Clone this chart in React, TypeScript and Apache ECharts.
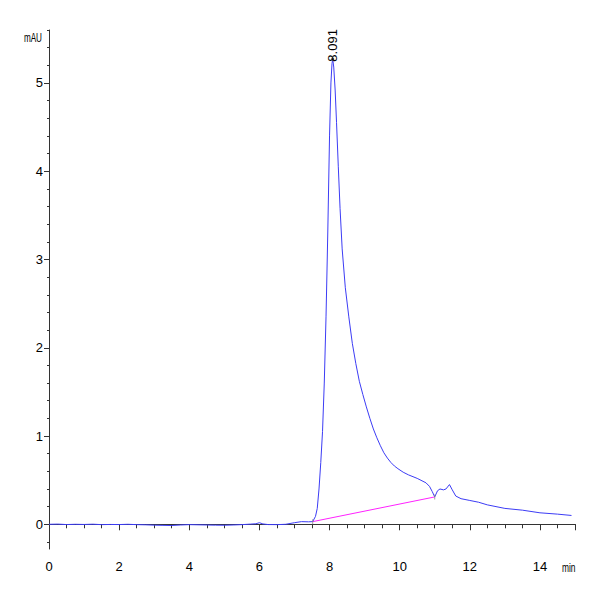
import React, { useEffect, useRef } from "react";
import * as echarts from "echarts";

const times = [
  0, 0.25, 0.5, 0.75, 1.0, 1.25, 1.5, 1.75, 2.0, 2.25, 2.5, 2.75, 3.0, 3.25, 3.5, 3.75,
  4.0, 4.25, 4.5, 4.75, 5.0, 5.25, 5.5, 5.75, 5.9, 6.0, 6.1, 6.25, 6.5, 6.75, 7.0, 7.2,
  7.4, 7.52, 7.6, 7.65, 7.7, 7.75, 7.8, 7.85, 7.9, 7.95, 8.0, 8.04, 8.07, 8.091, 8.12,
  8.16, 8.2, 8.25, 8.3, 8.36, 8.45, 8.55, 8.65, 8.75, 8.85, 8.95, 9.05, 9.15, 9.25, 9.35,
  9.45, 9.55, 9.65, 9.75, 9.85, 9.95, 10.1, 10.25, 10.5, 10.75, 10.85, 10.93, 11.0,
  11.08, 11.15, 11.25, 11.32, 11.42, 11.5, 11.6, 11.75, 12.0, 12.25, 12.5, 13.0, 13.5,
  14.0, 14.5, 14.9,
];
const absorbance = [
  0.0, 0.002, -0.003, 0.0, -0.002, 0.001, -0.004, -0.002, -0.003, 0.0, -0.004, -0.006,
  -0.01, -0.012, -0.014, -0.008, -0.004, -0.006, -0.008, -0.01, -0.011, -0.008, -0.004,
  0.002, 0.006, 0.018, 0.004, -0.003, -0.004, 0.0, 0.018, 0.03, 0.028, 0.03, 0.09, 0.18,
  0.4, 0.7, 1.05, 1.6, 2.35, 3.3, 4.4, 5.0, 5.22, 5.27, 5.18, 4.92, 4.55, 4.05, 3.58,
  3.12, 2.68, 2.35, 2.05, 1.82, 1.62, 1.47, 1.33, 1.2, 1.08, 0.98, 0.89, 0.81, 0.75, 0.7,
  0.66, 0.63, 0.59, 0.56, 0.52, 0.47, 0.43, 0.37, 0.31, 0.38, 0.4, 0.39, 0.4, 0.45, 0.39,
  0.32, 0.29, 0.27, 0.25, 0.22, 0.18, 0.16, 0.13, 0.115, 0.1,
];

const baselineTimes = [7.52, 11.0];
const baselineValues = [0.03, 0.31];

const peakTime = 8.091;
const peakValue = 5.27;
const peakLabel = "8.091";

const xMajorTicks = [0, 2, 4, 6, 8, 10, 12, 14, 15];
const xLabelTicks = [0, 2, 4, 6, 8, 10, 12, 14];
const xMinorTicks = [
  0, 0.5, 1, 1.5, 2, 2.5, 3, 3.5, 4, 4.5, 5, 5.5, 6, 6.5, 7, 7.5, 8, 8.5, 9, 9.5, 10,
  10.5, 11, 11.5, 12, 12.5, 13, 13.5, 14, 14.5, 15,
];
const yMajorTicks = [0, 1, 2, 3, 4, 5];
const yMinorTicks = [
  -0.2, 0, 0.2, 0.4, 0.6, 0.8, 1, 1.2, 1.4, 1.6, 1.8, 2, 2.2, 2.4, 2.6, 2.8, 3, 3.2, 3.4,
  3.6, 3.8, 4, 4.2, 4.4, 4.6, 4.8, 5, 5.2, 5.4, 5.6,
];

const FONT = "'Liberation Sans Narrow', 'Liberation Sans', Arial, sans-serif";

export default function App() {
  const ref = useRef<HTMLDivElement>(null);
  useEffect(() => {
    if (!ref.current) return;
    const chart = echarts.init(ref.current, null, { renderer: "svg" });
    const axisColor = "#333";
    const xBase = { type: "value", min: 0, max: 15, gridIndex: 0, position: "bottom", splitLine: { show: false } };
    const yBase = { type: "value", min: -0.28, max: 5.6, gridIndex: 0, position: "left", splitLine: { show: false } };
    chart.setOption({
      animation: false,
      backgroundColor: "#fff",
      grid: { left: 49, right: 25, top: 30, bottom: 51, containLabel: false },
      xAxis: [
        {
          ...xBase,
          axisLine: { show: true, lineStyle: { color: axisColor, width: 1 } },
          axisTick: { show: true, length: 4, customValues: xMinorTicks, lineStyle: { color: axisColor } },
          axisLabel: { show: false },
        },
        {
          ...xBase,
          axisLine: { show: false },
          axisTick: { show: true, length: 6, customValues: xMajorTicks, lineStyle: { color: axisColor } },
          axisLabel: {
            show: true,
            customValues: xLabelTicks,
            margin: 11,
            fontSize: 13,
            fontFamily: FONT,
            color: "#000",
          },
        },
      ],
      yAxis: [
        {
          ...yBase,
          axisLine: { show: true, lineStyle: { color: axisColor, width: 1 } },
          axisTick: { show: true, length: 2, customValues: yMinorTicks, lineStyle: { color: axisColor } },
          axisLabel: { show: false },
        },
        {
          ...yBase,
          axisLine: { show: false },
          axisTick: { show: true, length: 5, customValues: yMajorTicks, lineStyle: { color: axisColor } },
          axisLabel: {
            show: true,
            customValues: yMajorTicks,
            margin: 6,
            fontSize: 13,
            fontFamily: FONT,
            color: "#000",
          },
        },
      ],
      graphic: [
        {
          type: "text",
          x: 42,
          y: 38,
          scaleX: 0.68,
          style: {
            text: "mAU",
            fontSize: 12,
            fontFamily: FONT,
            fill: "#000",
            textAlign: "right",
            textVerticalAlign: "middle",
          },
        },
        {
          type: "text",
          x: 562,
          y: 568,
          scaleX: 0.7,
          style: {
            text: "min",
            fontSize: 12,
            fontFamily: FONT,
            fill: "#000",
            textAlign: "left",
            textVerticalAlign: "middle",
          },
        },
      ],
      series: [
        {
          type: "line",
          xAxisIndex: 0,
          yAxisIndex: 0,
          data: times.map((t, i) => [t, absorbance[i]]),
          showSymbol: false,
          symbol: "none",
          lineStyle: { color: "#3c3cf5", width: 1 },
          z: 3,
          markPoint: {
            symbol: "circle",
            symbolSize: 3,
            itemStyle: { color: "#555" },
            data: [{ coord: [peakTime, peakValue] }],
            label: {
              show: true,
              formatter: peakLabel,
              position: "top",
              rotate: 90,
              align: "left",
              verticalAlign: "middle",
              distance: -4,
              fontSize: 13,
              fontFamily: FONT,
              color: "#000",
            },
          },
        },
        {
          type: "line",
          xAxisIndex: 0,
          yAxisIndex: 0,
          data: baselineTimes.map((t, i) => [t, baselineValues[i]]),
          showSymbol: false,
          symbol: "none",
          lineStyle: { color: "#ff22ff", width: 1 },
          z: 2,
        },
        {
          type: "scatter",
          xAxisIndex: 0,
          yAxisIndex: 0,
          data: baselineTimes.map((t, i) => [t, baselineValues[i]]),
          symbol: "rect",
          symbolSize: [1, 5],
          itemStyle: { color: "#888" },
          z: 4,
        },
      ],
    });
    return () => chart.dispose();
  }, []);
  return (
    <div
      ref={ref}
      style={{ width: 600, height: 600, position: "absolute", left: 0, top: 0, background: "#fff" }}
    />
  );
}
